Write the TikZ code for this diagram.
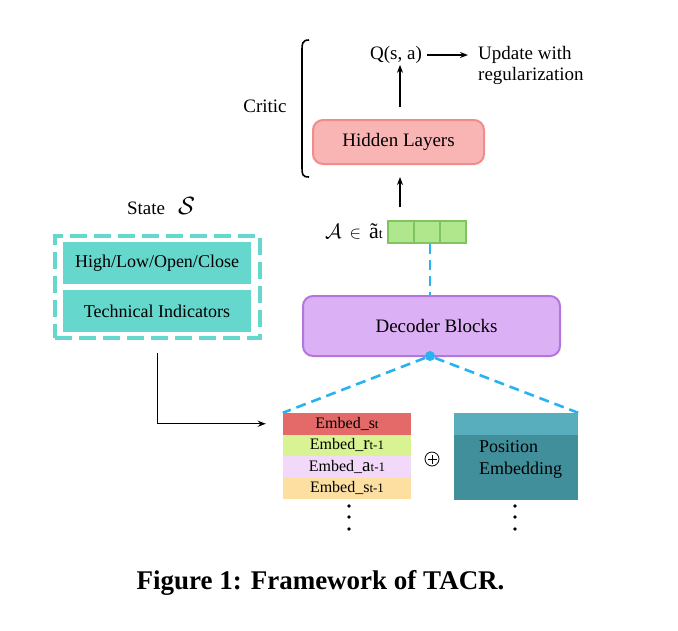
\documentclass[tikz,border=0pt]{standalone}
\usepackage{fontspec}
\setmainfont{Liberation Serif}
\usepackage{tikz}
\usetikzlibrary{arrows.meta, positioning, calc}
\definecolor{hidfill}{RGB}{249,180,180}
\definecolor{hidline}{RGB}{240,140,140}
\definecolor{decfill}{RGB}{220,176,245}
\definecolor{decline}{RGB}{180,118,222}
\definecolor{cellfill}{RGB}{176,230,140}
\definecolor{cellline}{RGB}{128,196,96}
\definecolor{dashblue}{RGB}{41,178,240}
\definecolor{turq}{RGB}{102,215,205}
\definecolor{embred}{RGB}{228,106,106}
\definecolor{embgreen}{RGB}{216,243,146}
\definecolor{embpink}{RGB}{243,217,249}
\definecolor{emborange}{RGB}{253,223,162}
\definecolor{postop}{RGB}{88,174,189}
\definecolor{posbody}{RGB}{66,143,156}

\begin{document}
\begin{tikzpicture}[
        x=1pt, y=-1pt,
        txt/.style={inner sep=1pt, font=\fontsize{19}{23}\selectfont},
        rbox/.style={rectangle, rounded corners=10pt, line width=2pt, align=center, font=\fontsize{19}{23}\selectfont},
        cell/.style={rectangle, fill=cellfill, draw=cellline, line width=1.5pt, minimum width=26pt, minimum height=22pt, inner sep=0pt},
        statebox/.style={rectangle, fill=turq, minimum width=188pt, minimum height=42pt, inner sep=0pt, font=\fontsize{18}{22}\selectfont},
        embrow/.style={rectangle, minimum width=128pt, minimum height=21.5pt, inner sep=0pt, font=\fontsize{16}{18}\selectfont},
        arr/.style={-{Stealth[length=8pt, width=6pt]}, line width=1.4pt},
        bluedash/.style={dashblue, line width=2.6pt, dash pattern=on 10pt off 6pt}
    ]
        \useasboundingbox (0,0) rectangle (678,630);

        % Critic part
        \node[txt] (q) at (396,55) {Q(s, a)};
        \node[txt, anchor=west, align=left, font=\fontsize{19}{21}\selectfont] (update) at (477,65) {Update with\\regularization};
        \node[rbox, fill=hidfill, draw=hidline, minimum width=171pt, minimum height=44pt] (hidden) at (398.5,142) {Hidden Layers};
        \node[txt] (critic) at (265,106) {Critic};
        \draw[line width=1.6pt] (309,40) .. controls (302,40) and (302,44) .. (302,50) -- (302,167) .. controls (302,174) and (302,177) .. (309,177);

        % Action cells
        \node[cell] (cella) at (401,232) {};
        \node[cell] (cellb) at (427,232) {};
        \node[cell] (cellc) at (453,232) {};
        \node[txt, anchor=east] (action) at (384,231) {{\fontsize{22}{24}\selectfont$\mathcal{A}$}\hspace{8pt}$\in$\hspace{8pt}{\fontsize{22}{24}\selectfont\~{a}}{\fontsize{14}{16}\selectfont t}};

        % Arrows
        \draw[arr, shorten <=13pt, shorten >=12pt] ([xshift=1.5pt]hidden.south |- cella.north) -- ([xshift=1.5pt]hidden.south);
        \draw[arr] ([xshift=1.5pt, yshift=12pt]hidden.north) -- ([xshift=4pt]q.south);
        \draw[arr, shorten <=4pt, shorten >=9pt] (q) -- (update.west |- q);

        % Decoder
        \node[rbox, fill=decfill, draw=decline, minimum width=257pt, minimum height=60pt] (decoder) at (431.5,326) {\hspace{10pt}Decoder Blocks};
        \node[circle, fill=dashblue, inner sep=0pt, minimum size=10pt] (hub) at (430,356) {};
        \draw[bluedash] (cellb.south -| hub) -- (decoder.north -| hub);

        % Embeddings
        \node[embrow, fill=embred]    (embs)  at (347,423.75) {Embed\_s{\fontsize{13}{15}\selectfont t}};
        \node[embrow, fill=embgreen]  (embr)  at (347,445.25) {Embed\_{\fontsize{19}{18}\selectfont r}{\fontsize{13}{15}\selectfont t-1}};
        \node[embrow, fill=embpink]   (emba)  at (347,466.75) {Embed\_{\fontsize{19}{18}\selectfont a}{\fontsize{13}{15}\selectfont t-1}};
        \node[embrow, fill=emborange] (embso) at (347,488.25) {Embed\_s{\fontsize{13}{15}\selectfont t-1}};
        \node[circle, draw, line width=0.8pt, minimum size=14pt, inner sep=0pt,
              path picture={\draw[line width=0.8pt] ([xshift=-4.5pt]path picture bounding box.center) -- ([xshift=4.5pt]path picture bounding box.center)
                            ([yshift=-4.5pt]path picture bounding box.center) -- ([yshift=4.5pt]path picture bounding box.center);}] (plus) at (432,459) {};
        \node[rectangle, fill=postop, minimum width=124pt, minimum height=22pt, inner sep=0pt] (postopbox) at (516,424) {};
        \node[rectangle, fill=posbody, minimum width=124pt, minimum height=65pt, inner sep=0pt, below=0pt of postopbox] (posbox) {};
        \node[txt, align=left, font=\fontsize{18}{22}\selectfont] (posname) at (520.5,459) {Position\\Embedding};
        \draw[bluedash] (hub) -- (embs.north west);
        \draw[bluedash] (hub) -- (postopbox.north east);
        \foreach \y in {506,517,529} {
            \fill (349,\y) circle (1.8pt);
            \fill (515,\y) circle (1.8pt);
        }

        % State
        \node[txt] (statelabel) at (161,206) {State\hspace{13pt}{\fontsize{23}{25}\selectfont$\mathcal{S}$}};
        \node[rectangle, draw=turq, line width=4pt, dash pattern=on 17pt off 7pt, minimum width=205pt, minimum height=102pt] (state) at (157.5,287) {};
        \node[statebox] (ohlc) at (157,263) {High/Low/Open/Close};
        \node[statebox] (tech) at (157,311) {Technical Indicators};
        \draw[arr, shorten <=13pt, shorten >=17pt] (state.south) |- (embs.west);

        % Caption
        \node[font=\fontsize{27}{30}\selectfont\bfseries] (caption) at (320.5,583) {Figure 1: Framework of TACR.};
\end{tikzpicture}
\end{document}
